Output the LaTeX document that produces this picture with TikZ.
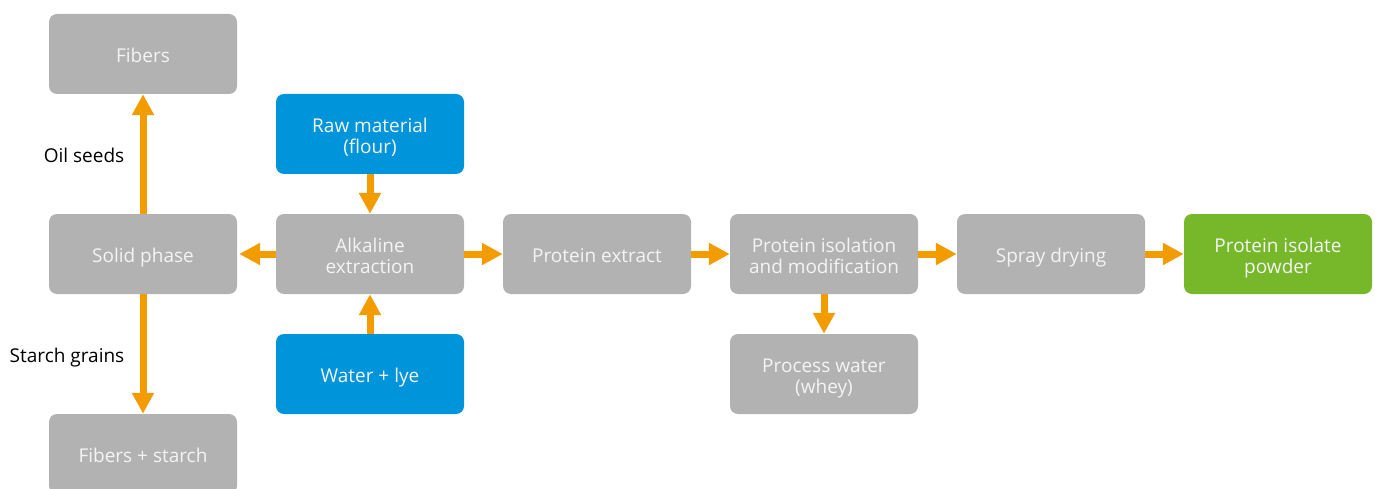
\documentclass[tikz,border=0pt]{standalone}
\usepackage{fontspec}
\setmainfont{Open Sans}
\usetikzlibrary{arrows.meta}
\definecolor{boxgray}{HTML}{B2B2B2}
\definecolor{boxblue}{HTML}{0095DA}
\definecolor{boxgreen}{HTML}{76B82A}
\definecolor{arrorange}{HTML}{F39C00}
\definecolor{txtwhite}{HTML}{F4F4F4}
\tikzset{
  box/.style={fill=boxgray, draw=none, rounded corners=8pt, minimum width=188pt, minimum height=80pt,
    text=txtwhite, align=center, inner sep=0pt, font=\fontsize{19}{21}\selectfont,
    text height=20pt, text depth=2.4pt},
  twoline/.style={text height=40.5pt, text depth=2.4pt},
  bluebox/.style={box, fill=boxblue},
  greenbox/.style={box, fill=boxgreen},
  flow/.style={draw=arrorange, line width=7pt, -{Triangle[width=21pt,length=21pt]}},
  lbl/.style={text=black, font=\fontsize{19}{21}\selectfont, inner sep=0pt, text height=18pt, text depth=2.4pt}
}
\begin{document}
\begin{tikzpicture}[x=1pt,y=-1pt]
\path[use as bounding box, clip] (0,0) rectangle (1375,489);
\node[box] (fib) at (143,54) {Fibers};
\node[bluebox, twoline] (raw) at (370,134) {Raw material\\(flour)};
\node[box] (solid) at (143,254) {Solid phase};
\node[box, twoline] (alk) at (370,254) {Alkaline\\extraction};
\node[box] (pext) at (597,254) {Protein extract};
\node[box, twoline] (piso) at (824,254) {Protein isolation\\and modification};
\node[box] (spray) at (1051,254) {Spray drying};
\node[greenbox, twoline] (pow) at (1278,254) {Protein isolate\\powder};
\node[bluebox] (water) at (370,374) {Water + lye};
\node[box, twoline] (whey) at (824,374) {Process water\\(whey)};
\node[box] (fs) at (143,454) {Fibers + starch};
\node[lbl] (oil) at (84,155) {Oil seeds};
\node[lbl] (starch) at (67,355) {Starch grains};
\draw[flow] (solid.north) -- (fib.south);
\draw[flow] (solid.south) -- (fs.north);
\draw[flow] (raw.south) -- (alk.north);
\draw[flow] (water.north) -- (alk.south);
\draw[flow] (alk.west) -- ([xshift=2pt]solid.east);
\draw[flow] (alk.east) -- (pext.west);
\draw[flow] (pext.east) -- (piso.west);
\draw[flow] (piso.east) -- (spray.west);
\draw[flow] (spray.east) -- (pow.west);
\draw[flow] (piso.south) -- (whey.north);
\end{tikzpicture}
\end{document}
